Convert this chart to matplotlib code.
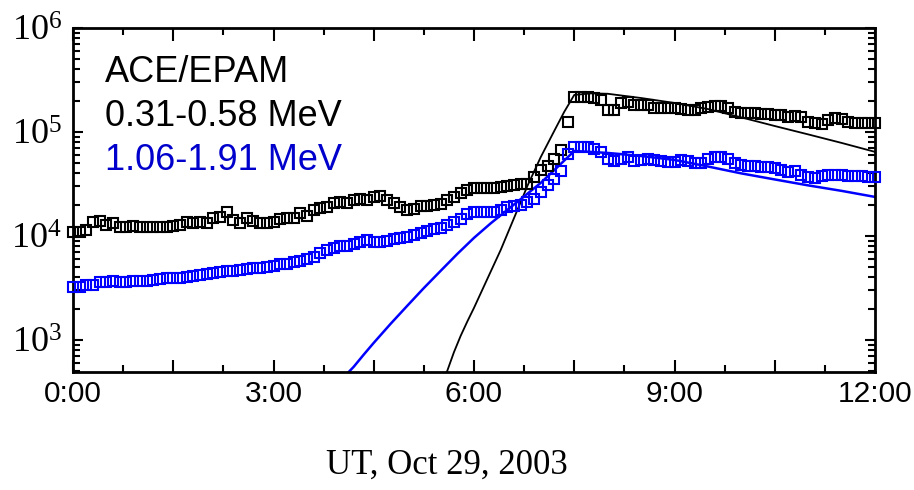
import numpy as np
import matplotlib
matplotlib.use("Agg")
import matplotlib.pyplot as plt
from matplotlib.ticker import FixedLocator, LogLocator, NullFormatter, FixedFormatter

# ---------------- data ----------------
# time in hours UT (6-min cadence), Oct 29 2003
time_h = np.linspace(0, 12, 121)

flux_low = [  # 0.31-0.58 MeV
    1.08e4, 1.09e4, 1.14e4, 1.36e4, 1.40e4, 1.27e4, 1.33e4, 1.21e4, 1.21e4, 1.25e4,
    1.23e4, 1.21e4, 1.21e4, 1.23e4, 1.23e4, 1.25e4, 1.28e4, 1.35e4, 1.34e4, 1.37e4,
    1.34e4, 1.48e4, 1.51e4, 1.68e4, 1.43e4, 1.33e4, 1.48e4, 1.40e4, 1.34e4, 1.34e4,
    1.36e4, 1.45e4, 1.50e4, 1.50e4, 1.65e4, 1.56e4, 1.78e4, 1.85e4, 1.91e4, 2.08e4,
    2.10e4, 2.06e4, 2.22e4, 2.28e4, 2.22e4, 2.37e4, 2.42e4, 2.22e4, 2.06e4, 1.89e4,
    1.78e4, 1.81e4, 1.94e4, 1.94e4, 1.99e4, 2.03e4, 2.19e4, 2.37e4, 2.59e4, 2.74e4,
    2.88e4, 2.88e4, 2.88e4, 2.88e4, 2.94e4, 2.99e4, 3.09e4, 3.16e4, 3.16e4, 3.72e4,
    4.31e4, 4.71e4, 5.47e4, 6.71e4, 1.26e5, 2.19e5, 2.19e5, 2.19e5, 2.11e5, 2.03e5,
    1.63e5, 1.63e5, 1.89e5, 1.96e5, 1.82e5, 1.82e5, 1.82e5, 1.69e5, 1.69e5, 1.69e5,
    1.69e5, 1.65e5, 1.63e5, 1.63e5, 1.69e5, 1.74e5, 1.78e5, 1.76e5, 1.69e5, 1.57e5,
    1.51e5, 1.51e5, 1.51e5, 1.49e5, 1.49e5, 1.47e5, 1.46e5, 1.40e5, 1.43e5, 1.38e5,
    1.26e5, 1.23e5, 1.19e5, 1.30e5, 1.35e5, 1.33e5, 1.26e5, 1.23e5, 1.23e5, 1.23e5,
    1.23e5,
]

flux_high = [  # 1.06-1.91 MeV
    3.25e3, 3.25e3, 3.38e3, 3.38e3, 3.56e3, 3.56e3, 3.64e3, 3.56e3, 3.56e3, 3.64e3,
    3.69e3, 3.69e3, 3.78e3, 3.83e3, 3.92e3, 3.92e3, 3.92e3, 4.01e3, 4.13e3, 4.22e3,
    4.34e3, 4.41e3, 4.49e3, 4.59e3, 4.64e3, 4.71e3, 4.84e3, 4.89e3, 4.95e3, 5.03e3,
    5.17e3, 5.32e3, 5.42e3, 5.56e3, 5.78e3, 5.98e3, 6.32e3, 6.82e3, 7.25e3, 7.67e3,
    7.93e3, 8.07e3, 8.29e3, 8.76e3, 9.15e3, 8.76e3, 8.70e3, 8.89e3, 9.25e3, 9.50e3,
    9.67e3, 1.02e4, 1.06e4, 1.11e4, 1.16e4, 1.20e4, 1.26e4, 1.35e4, 1.45e4, 1.63e4,
    1.68e4, 1.68e4, 1.68e4, 1.71e4, 1.76e4, 1.88e4, 1.94e4, 1.99e4, 2.10e4, 2.27e4,
    2.65e4, 3.06e4, 3.53e4, 4.22e4, 6.14e4, 7.22e4, 7.22e4, 7.13e4, 6.82e4, 6.47e4,
    5.44e4, 5.30e4, 5.44e4, 5.69e4, 5.20e4, 5.38e4, 5.47e4, 5.32e4, 5.20e4, 5.09e4,
    5.18e4, 5.38e4, 5.20e4, 5.01e4, 5.06e4, 5.44e4, 5.71e4, 5.71e4, 5.50e4, 5.03e4,
    4.82e4, 4.71e4, 4.71e4, 4.64e4, 4.58e4, 4.48e4, 4.31e4, 4.15e4, 4.25e4, 3.86e4,
    3.72e4, 3.59e4, 3.78e4, 3.86e4, 3.86e4, 3.86e4, 3.78e4, 3.78e4, 3.78e4, 3.72e4,
    3.72e4,
]

# model curves
fit_low_t = [5.55, 5.6, 5.7, 5.8, 5.9, 6.0, 6.2, 6.4, 6.6, 6.8, 7.0, 7.2, 7.35, 7.5,
             7.75, 8.0, 8.5, 9.0, 9.5, 10.0, 10.5, 11.0, 11.5, 12.0]
fit_low_v = [431, 503, 760, 1.09e3, 1.50e3, 2.03e3, 3.86e3, 7.33e3, 1.49e4, 3.03e4,
             5.75e4, 1.02e5, 1.56e5, 2.27e5,
             2.35e5, 2.33e5, 2.12e5, 1.90e5, 1.66e5, 1.38e5, 1.14e5, 9.47e4, 7.84e4, 6.43e4]

fit_high_t = [4.1, 4.2, 4.35, 4.5, 4.75, 5.0, 5.25, 5.5, 5.75, 6.0, 6.25, 6.5, 6.75, 7.0, 7.25, 7.5,
              8.0, 8.5, 9.0, 9.5, 10.0, 10.5, 11.0, 11.5, 12.0]
fit_high_v = [471, 550, 720, 935, 1.42e3, 2.12e3, 3.15e3, 4.6e3, 6.7e3, 9.57e3, 1.32e4, 1.78e4,
              2.40e4, 3.24e4, 4.60e4, 6.56e4,
              6.28e4, 5.87e4, 5.38e4, 4.65e4, 3.99e4, 3.49e4, 3.06e4, 2.71e4, 2.37e4]

xtick_pos = [0, 3, 6, 9, 12]
xtick_labels = ["0:00", "3:00", "6:00", "9:00", "12:00"]
ytick_pos = [1e3, 1e4, 1e5, 1e6]
ytick_labels = [r"$\mathregular{10^{3}}$", r"$\mathregular{10^{4}}$",
                r"$\mathregular{10^{5}}$", r"$\mathregular{10^{6}}$"]

legend_lines = ["ACE/EPAM", "0.31-0.58 MeV", "1.06-1.91 MeV"]
legend_colors = ["black", "black", "#0000cc"]

BLUE = "#0000ff"

# ---------------- figure ----------------
fig = plt.figure(figsize=(9.14, 4.90), dpi=100)
ax = fig.add_axes([73/914, 1-372/490, (875-73)/914, (372-28)/490])

ax.plot(time_h, flux_low, ls="none", marker="s", ms=7.0, mfc="none", mec="black",
        mew=1.5, clip_on=False, zorder=3)
ax.plot(time_h, flux_high, ls="none", marker="s", ms=7.0, mfc="none", mec=BLUE,
        mew=1.5, clip_on=False, zorder=3)
ax.plot(fit_low_t, fit_low_v, color="black", lw=1.3, zorder=2)
ax.plot(fit_high_t, fit_high_v, color=BLUE, lw=1.8, zorder=2)

ax.set_yscale("log")
ax.set_xlim(0, 12)
ax.set_ylim(490, 1e6)

ax.xaxis.set_major_locator(FixedLocator([0, 1.5, 3, 4.5, 6, 7.5, 9, 10.5, 12]))
ax.xaxis.set_minor_locator(FixedLocator([0.75, 2.25, 3.75, 5.25, 6.75, 8.25, 9.75, 11.25]))
ax.xaxis.set_major_formatter(FixedFormatter(
    ["0:00", "", "3:00", "", "6:00", "", "9:00", "", "12:00"]))

ax.yaxis.set_major_locator(FixedLocator(ytick_pos))
ax.yaxis.set_major_formatter(FixedFormatter(ytick_labels))
ax.yaxis.set_minor_locator(LogLocator(base=10, subs=np.arange(2, 10)))
ax.yaxis.set_minor_formatter(NullFormatter())

for s in ax.spines.values():
    s.set_linewidth(2.0)

ax.tick_params(axis="both", which="both", direction="in", top=True, right=True, width=1.5)
ax.tick_params(axis="x", which="major", length=9, pad=6)
ax.tick_params(axis="x", which="minor", length=5)
ax.tick_params(axis="y", which="major", length=7, pad=8)
ax.tick_params(axis="y", which="minor", length=5)

for lab in ax.get_xticklabels():
    lab.set_fontfamily("Liberation Sans")
    lab.set_fontsize(21.5)
for lab in ax.get_yticklabels():
    lab.set_fontfamily("Liberation Serif")
    lab.set_fontsize(26)

ys = [72, 117, 160]
for txt, col, yy in zip(legend_lines, legend_colors, ys):
    fig.text(105/914, 1 - yy/490, txt, color=col, fontsize=26,
             family="Liberation Sans", ha="left", va="center")

fig.text(447/914, 1 - 465/490, "UT, Oct 29, 2003", fontsize=25,
         family="Liberation Serif", ha="center", va="center")

fig.savefig("out.png", dpi=100)
